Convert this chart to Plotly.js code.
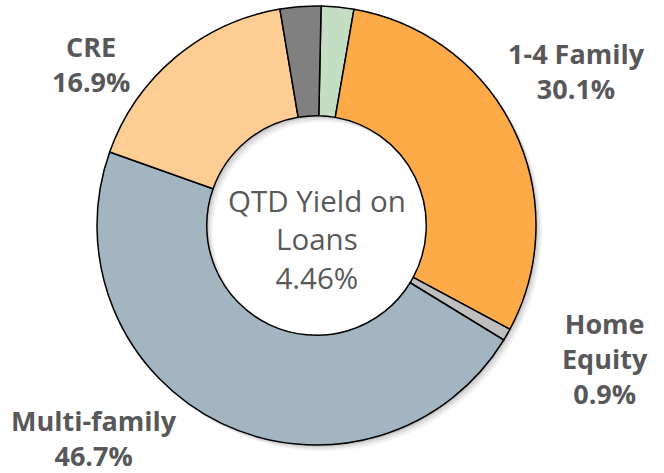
<!DOCTYPE html>
<html>
<head>
<meta charset="utf-8">
<script src="https://cdn.plot.ly/plotly-3.0.1.min.js"></script>
<style>
html,body{margin:0;padding:0;background:#fff;}
#chart{width:664px;height:473px;}
</style>
</head>
<body>
<div id="chart"></div>
<script>
// ---- data ----
const categories = ['Other (green)', '1-4 Family', 'Home Equity', 'Multi-family', 'CRE', 'Other (gray)'];
const shares = [2.4, 30.1, 0.9, 46.7, 16.9, 3.0];
const sliceColors = ['#C4DEC3', '#FDAA48', '#BFBFBF', '#A2B5C0', '#FECD93', '#808080'];
const labelled = [false, true, true, true, true, false];
const labelLines = {'1-4 Family': ['1-4 Family'], 'Home Equity': ['Home', 'Equity'], 'Multi-family': ['Multi-family'], 'CRE': ['CRE']};
const centerTitleLines = ['QTD Yield on', 'Loans'];
const qtdYield = 4.46;

// ---- layout geometry (pixels) ----
const W = 664, H = 473;
const cx = 316.5, cy = 225.5, R = 219.5;
const labelPos = {
  '1-4 Family': [576, 71],
  'Home Equity': [605, 358],
  'Multi-family': [94, 438],
  'CRE': [91, 64]
};

function dom(dx, dy) {
  return {
    x: [(cx - R + dx) / W, (cx + R + dx) / W],
    y: [1 - (cy + R + dy) / H, 1 - (cy - R + dy) / H]
  };
}

const rotation = 1.2;
const traces = [];
// soft shadow layers
[[6, 0.05], [4, 0.07], [2, 0.09]].forEach(([d, a]) => {
  traces.push({
    type: 'pie', values: shares, labels: categories, sort: false,
    direction: 'clockwise', rotation: rotation, hole: 0.5,
    domain: dom(d, d), textinfo: 'none', hoverinfo: 'skip',
    marker: {colors: shares.map(() => 'rgba(0,0,0,' + a + ')'), line: {width: 0}},
    showlegend: false
  });
});
traces.push({
  type: 'pie', values: shares, labels: categories, sort: false,
  direction: 'clockwise', rotation: rotation, hole: 0.5,
  domain: dom(0, 0), textinfo: 'none', hoverinfo: 'label+percent',
  marker: {colors: sliceColors, line: {color: '#000000', width: 1.5}},
  showlegend: false
});

const annotations = [];
categories.forEach((c, i) => {
  if (!labelled[i]) return;
  const p = labelPos[c];
  annotations.push({
    xref: 'paper', yref: 'paper', x: p[0] / W, y: 1 - p[1] / H,
    xanchor: 'center', yanchor: 'middle', showarrow: false, align: 'center',
    borderpad: 0,
    text: labelLines[c].concat([shares[i].toFixed(1) + '%']).join('<br>'),
    font: {family: 'Open Sans', size: 27, color: '#58585A', weight: 700}
  });
});
annotations.push({
  xref: 'paper', yref: 'paper', x: cx / W, y: 1 - 239 / H,
  xanchor: 'center', yanchor: 'middle', showarrow: false, align: 'center',
  text: centerTitleLines.concat([qtdYield.toFixed(2) + '%']).join('<br>'),
  font: {family: 'Open Sans', size: 29.5, color: '#595959'}
});

Plotly.newPlot('chart', traces, {
  width: W, height: H,
  margin: {l: 0, r: 0, t: 0, b: 0},
  paper_bgcolor: '#ffffff', plot_bgcolor: '#ffffff',
  showlegend: false,
  annotations: annotations
}, {displayModeBar: false, staticPlot: true});
</script>
</body>
</html>
